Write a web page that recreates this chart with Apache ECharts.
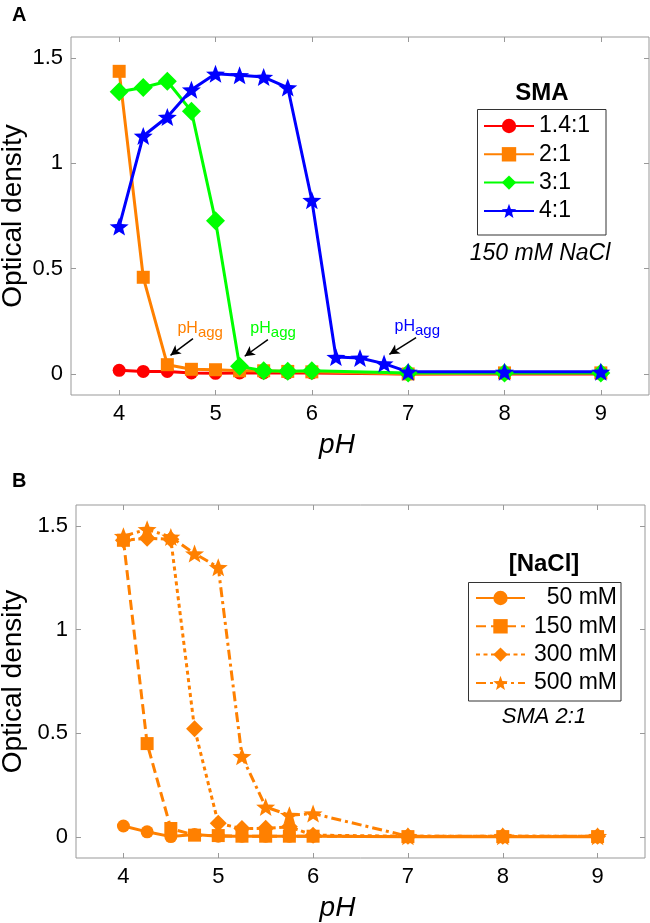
<!DOCTYPE html>
<html><head><meta charset="utf-8">
<script src="https://cdn.jsdelivr.net/npm/echarts@6/dist/echarts.min.js"></script>
<style>html,body{margin:0;padding:0;background:#fff}#c{width:650px;height:923px}</style>
</head><body><div id="c"></div>
<script>
// ---------- data ----------
const phA = [4, 4.25, 4.5, 4.75, 5, 5.25, 5.5, 5.75, 6, 7, 8, 9];
const phA4 = [4, 4.25, 4.5, 4.75, 5, 5.25, 5.5, 5.75, 6, 6.25, 6.5, 6.75, 7, 8, 9];
const sma14 = [0.017, 0.012, 0.012, 0.005, 0.003, 0.005, 0.005, 0.005, 0.005, 0.0, 0.0, 0.0];
const sma2  = [1.437, 0.459, 0.044, 0.022, 0.02, 0.015, 0.015, 0.012, 0.01, 0.0, 0.005, 0.005];
const sma3  = [1.34, 1.36, 1.39, 1.248, 0.727, 0.036, 0.015, 0.013, 0.015, 0.005, 0.005, 0.005];
const sma4  = [0.70, 1.13, 1.22, 1.35, 1.425, 1.418, 1.41, 1.36, 0.825, 0.08, 0.076, 0.049, 0.01, 0.01, 0.01];

const phB = [4, 4.25, 4.5, 4.75, 5, 5.25, 5.5, 5.75, 6, 7, 8, 9];
const nacl50  = [0.054, 0.026, 0.003, 0.013, 0.005, 0.005, 0.005, 0.005, 0.005, 0.002, 0.002, 0.002];
const nacl150 = [1.43, 0.451, 0.042, 0.01, 0.008, 0.005, 0.005, 0.005, 0.005, 0.003, 0.003, 0.003];
const nacl300 = [1.43, 1.44, 1.435, 0.523, 0.067, 0.042, 0.043, 0.05, 0.01, 0.005, 0.005, 0.005];
const nacl500 = [1.45, 1.483, 1.446, 1.366, 1.30, 0.39, 0.146, 0.106, 0.114, 0.005, 0.005, 0.005];

const namesA = ['1.4:1', '2:1', '3:1', '4:1'];
const namesB = ['50 mM', '150 mM', '300 mM', '500 mM'];
const xTicks = [4, 5, 6, 7, 8, 9];
const yTicks = [0, 0.5, 1, 1.5];
// annotation anchors (data coords): [textX, textY, tailX, tailY, headX, headY]
const aggOrange = [4.841, 0.205, 4.766, 0.168, 4.533, 0.0885];
const aggGreen  = [5.598, 0.205, 5.544, 0.163, 5.303, 0.084];
const aggBlue   = [7.095, 0.215, 7.082, 0.172, 6.805, 0.093];

// ---------- styles ----------
const FONT = '"Liberation Sans", Arial, sans-serif';
const RED = '#ff0000', ORANGE = '#ff8000', GREEN = '#00ff00', BLUE = '#0000ff';
const STAR = 'path://M50,0L62.34,33.01L97.55,34.55L69.97,56.49L79.39,90.45L50,71L20.61,90.45L30.03,56.49L2.45,34.55L37.66,33.01Z';
const FRAME = '#999';

const zip = (xs, ys) => xs.map((x, i) => [x, ys[i]]);

function xAxes(grid, name) {
  return [
    {type: 'value', gridIndex: grid, position: 'bottom', min: 3.5, max: 9.5,
     axisLine: {show: false, onZero: false},
     axisTick: {inside: true, length: 5, lineStyle: {color: FRAME}, customValues: xTicks},
     axisLabel: {customValues: xTicks, fontSize: 22, color: '#000', margin: 8, fontFamily: FONT},
     splitLine: {show: false},
     name: name, nameLocation: 'middle', nameGap: 36, nameMoveOverlap: false,
     nameTextStyle: {fontSize: 28, fontStyle: 'italic', color: '#000', fontFamily: FONT, padding: [0, 46, 0, 0]}},
    {type: 'value', gridIndex: grid, position: 'top', min: 3.5, max: 9.5,
     axisLine: {show: false, onZero: false},
     axisTick: {inside: true, length: 5, lineStyle: {color: FRAME}, customValues: xTicks},
     axisLabel: {show: false}, splitLine: {show: false}}
  ];
}
function yAxes(grid, name, gap) {
  return [
    {type: 'value', gridIndex: grid, position: 'left', min: -0.1, max: 1.6,
     axisLine: {show: false, onZero: false},
     axisTick: {inside: true, length: 5, lineStyle: {color: FRAME}, customValues: yTicks},
     axisLabel: {customValues: yTicks, fontSize: 22, color: '#000', margin: 8, fontFamily: FONT},
     splitLine: {show: false},
     name: name, nameLocation: 'middle', nameGap: gap, nameMoveOverlap: false,
     nameTextStyle: {fontSize: 28, color: '#000', fontFamily: FONT}},
    {type: 'value', gridIndex: grid, position: 'right', min: -0.1, max: 1.6,
     axisLine: {show: false, onZero: false},
     axisTick: {inside: true, length: 5, lineStyle: {color: FRAME}, customValues: yTicks},
     axisLabel: {show: false}, splitLine: {show: false}}
  ];
}

function annot(a, color) {
  return {
    markLine: {
      silent: true, animation: false, symbol: ['none', 'arrow'], symbolSize: [8, 10],
      label: {show: false},
      lineStyle: {color: '#000', width: 1.5, type: 'solid'},
      emphasis: {disabled: true},
      data: [[{coord: [a[2], a[3]]}, {coord: [a[4], a[5]]}]]
    },
    markPoint: {
      silent: true, animation: false, symbol: 'circle', symbolSize: 0,
      itemStyle: {color: 'transparent'},
      label: {show: true, position: 'inside', formatter: '{a|pH}{b|agg}',
        rich: {
          a: {fontSize: 16, color: color, fontFamily: FONT, lineHeight: 20, verticalAlign: 'top'},
          b: {fontSize: 15, color: color, fontFamily: FONT, lineHeight: 15, verticalAlign: 'bottom'}
        }},
      data: [{coord: [a[0], a[1]]}]
    }
  };
}

function lineSeries(name, xs, ys, color, symbol, size, xi, yi, lineType, extra) {
  return Object.assign({
    type: 'line', name: name, data: zip(xs, ys), xAxisIndex: xi, yAxisIndex: yi,
    symbol: symbol, symbolSize: size, showSymbol: true,
    lineStyle: {color: color, width: 3, type: lineType},
    itemStyle: {color: color},
    emphasis: {disabled: true}, animation: false
  }, extra || {});
}

const series = [
  lineSeries(namesA[0], phA, sma14, RED, 'circle', 13, 0, 0, 'solid'),
  lineSeries(namesA[1], phA, sma2, ORANGE, 'rect', 13, 0, 0, 'solid', annot(aggOrange, ORANGE)),
  lineSeries(namesA[2], phA, sma3, GREEN, 'diamond', 19, 0, 0, 'solid', annot(aggGreen, GREEN)),
  lineSeries(namesA[3], phA4, sma4, BLUE, STAR, [19, 18], 0, 0, 'solid', annot(aggBlue, BLUE)),
  lineSeries(namesB[0], phB, nacl50, ORANGE, 'circle', 13, 2, 2, 'solid'),
  lineSeries(namesB[1], phB, nacl150, ORANGE, 'rect', 13, 2, 2, [10, 5]),
  lineSeries(namesB[2], phB, nacl300, ORANGE, 'diamond', 17, 2, 2, [4, 3.5]),
  lineSeries(namesB[3], phB, nacl500, ORANGE, STAR, [19, 18], 2, 2, [10, 4, 3, 4])
];

const option = {
  animation: false,
  backgroundColor: '#fff',
  textStyle: {fontFamily: FONT},
  grid: [
    {left: 71, top: 37, width: 578, height: 358, show: true, borderColor: FRAME, borderWidth: 1,
     containLabel: false, outerBoundsMode: 'none'},
    {left: 76, top: 505, width: 569, height: 353, show: true, borderColor: FRAME, borderWidth: 1,
     containLabel: false, outerBoundsMode: 'none'}
  ],
  xAxis: xAxes(0, 'pH').concat(xAxes(1, 'pH')),
  yAxis: yAxes(0, 'Optical density', 44).concat(yAxes(1, 'Optical density', 49)),
  legend: [
    {data: namesA, orient: 'vertical', left: 483, top: 112, itemWidth: 50, itemHeight: 18,
     itemGap: 0.3, padding: 0, selectedMode: false,
     textStyle: {fontSize: 23, lineHeight: 28, color: '#000', fontFamily: FONT}},
    {data: namesB, orient: 'vertical', left: 475, top: 584, itemWidth: 49, itemHeight: 18,
     itemGap: 0.3, padding: 0, selectedMode: false,
     formatter: n => '{r|' + n + '}',
     textStyle: {fontSize: 23, lineHeight: 28, color: '#000', fontFamily: FONT,
       rich: {r: {width: 87, align: 'right', fontSize: 23, lineHeight: 28, color: '#000', fontFamily: FONT}}}}
  ],
  graphic: [
    {type: 'text', left: 12, top: 5, style: {text: 'A', fill: '#000', font: 'bold 20px ' + FONT}},
    {type: 'text', left: 12, top: 471, style: {text: 'B', fill: '#000', font: 'bold 20px ' + FONT}},
    {type: 'rect', shape: {x: 477.5, y: 109.5, width: 128.5, height: 125.5}, style: {fill: 'none', stroke: '#333', lineWidth: 1}, z: 100},
    {type: 'rect', shape: {x: 468.5, y: 582.5, width: 152.5, height: 118.5}, style: {fill: 'none', stroke: '#333', lineWidth: 1}, z: 100},
    {type: 'text', x: 542, y: 93, style: {text: 'SMA', font: 'bold 24px ' + FONT, fill: '#000', textAlign: 'center', textVerticalAlign: 'middle'}},
    {type: 'text', x: 540, y: 254, style: {text: '150 mM NaCl', font: 'italic 23px ' + FONT, fill: '#000', textAlign: 'center', textVerticalAlign: 'middle'}},
    {type: 'text', x: 544, y: 564, style: {text: '[NaCl]', font: 'bold 24px ' + FONT, fill: '#000', textAlign: 'center', textVerticalAlign: 'middle'}},
    {type: 'text', x: 544, y: 717, style: {text: 'SMA 2:1', font: 'italic 22px ' + FONT, fill: '#000', textAlign: 'center', textVerticalAlign: 'middle'}}
  ],
  series: series
};

const chart = echarts.init(document.getElementById('c'), null, {renderer: 'canvas'});
chart.setOption(option);
</script>
</body></html>
